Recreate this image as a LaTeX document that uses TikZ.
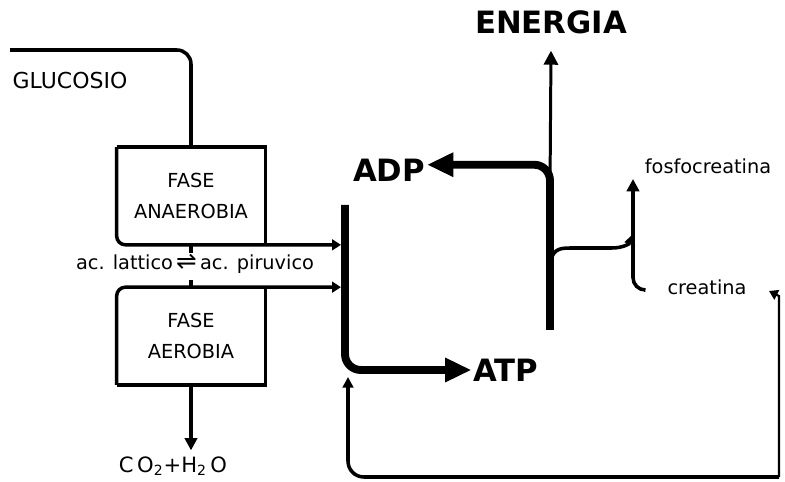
\documentclass[tikz,border=0pt]{standalone}
\usepackage{fontspec}
\setmainfont{DejaVu Sans}
\usepackage{amsmath}
\usetikzlibrary{arrows.meta,calc,positioning}

\begin{document}
\begin{tikzpicture}[x=0.02cm,y=-0.02cm,
    thickline/.style={line width=4.5pt},
    medline/.style={line width=2pt},
    thinline/.style={line width=1.7pt},
    bigtip/.style={-{Triangle[length=15pt,width=13pt]}},
    smalltip/.style={-{Triangle[length=5pt,width=6pt]}},
    phase/.style={minimum width=2.96cm,minimum height=1.94cm,inner sep=0pt,align=center,font=\fontsize{11}{18}\selectfont},
    big/.style={inner sep=1pt,font=\fontsize{17.5}{20}\selectfont\bfseries},
    small/.style={font=\fontsize{11}{13}\selectfont}]
\useasboundingbox (0,0) rectangle (785,482);

    \node[font=\fontsize{12.5}{14}\selectfont] (glucosio) at (70,81) {GLUCOSIO};
    \node[phase] (anaer) at (191,196) {FASE\\ANAEROBIA};
    \node[phase] (aer) at (191,336) {FASE\\AEROBIA};
    \node[small] (lattico) at (195,264) {ac. lattico\,{\fontsize{14}{14}\selectfont ⇌}\,ac. piruvico};
    \node[font=\fontsize{12}{14}\selectfont] (co2) at (173,466) {C\,O\textsubscript{2}+H\textsubscript{2}\,O};
    \node[big] (adp) at (389,170) {ADP};
    \node[big] (atp) at (506,370) {ATP};
    \node[big] (energia) at (551,22) {ENERGIA};
    \node[small] (fosfo) at (708,166) {fosfocreatina};
    \node[small] (creatina) at (707,287) {creatina};

    \coordinate (gstart) at (10,50);
    \coordinate (bartop) at (345,205);
    \coordinate (enbot) at (550,330);
    \coordinate (enmid) at (550,190);
    \coordinate (brstart) at (550,263);
    \coordinate (brend) at (633,234);
    \coordinate (fctip) at (633,179);
    \coordinate (fcbot) at (644,290);
    \coordinate (loopend) at (348,377);
    \coordinate (loopcorner) at (779,477);
    \coordinate (crtip) at (769,291);

    % glicolisi
    \draw[medline,rounded corners=8pt] (gstart) -| (anaer.north);
    \draw[medline] (anaer.north west) -- (anaer.north east) -- (anaer.south east);
    \draw[medline,smalltip,rounded corners=5pt] (anaer.north west) -- (anaer.south west) -- ($(anaer.south -| bartop)+(-4,0)$);
    \draw[medline] (aer.south west) -- (aer.south east) -- (aer.north east);
    \draw[medline,smalltip,rounded corners=5pt] (aer.south west) -- (aer.north west) -- ($(aer.north -| bartop)+(-4,0)$);
    \draw[medline] (anaer.south) -- ++(0,8);
    \draw[medline] (aer.north) -- ++(0,-7);
    \draw[medline,-{Triangle[length=7pt,width=7pt]}] (aer.south) -- (aer.south |- co2.north);

    % ATP / ADP
    \draw[thickline,bigtip,rounded corners=9pt] (bartop) |- (atp.west);
    \draw[thickline,bigtip,rounded corners=9pt] (enbot) |- ([yshift=3pt]adp.east);
    \draw[thinline,-{Triangle[length=8pt,width=8pt]}] (enmid) -- ([yshift=-8.5pt]energia.south);

    % creatina
    \draw[medline,-{Triangle[length=6pt,width=6pt]}] (brstart) .. controls (553,250) and (558,248) .. (570,248) -- (612,248) .. controls (624,248) and (630,243) .. (brend);
    \draw[medline,rounded corners=7pt,-{Triangle[length=7pt,width=7pt]}] (fcbot) -| (fctip);
    \draw[medline,rounded corners=9pt,-{Triangle[length=6pt,width=6pt]}] (loopcorner) -| (loopend);
    \draw[line width=1.2pt,-{Triangle[length=5pt,width=6pt]}] (loopcorner) -- (779,296) -- (crtip);
\end{tikzpicture}
\end{document}
